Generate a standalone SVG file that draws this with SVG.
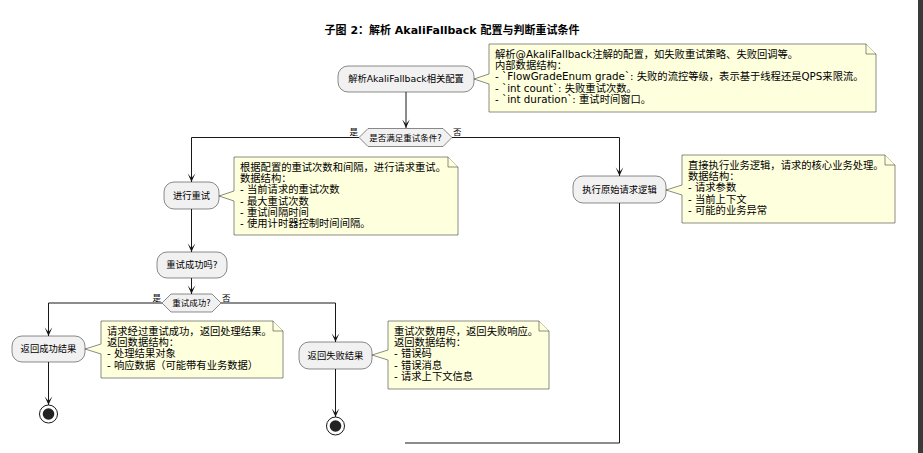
<svg xmlns="http://www.w3.org/2000/svg" width="923" height="453" viewBox="0 0 923 453">
<defs>
<style>
text{font-family:"DejaVu Sans","Noto Sans CJK SC",sans-serif;fill:#000}
.title{font-size:11px;font-weight:bold}
.box{fill:#F1F1F1;stroke:#181818;stroke-width:0.5}
.bt{font-size:9.3px;text-anchor:middle}
.dt{font-size:8.5px;text-anchor:middle}
.lbl{font-size:8.5px}
.note{fill:#FEFFDD;stroke:#181818;stroke-width:0.5}
.nt{font-size:10.3px}
.ln{fill:none;stroke:#181818;stroke-width:1}
.endo{fill:#fff;stroke:#181818;stroke-width:1}
.endi{fill:#222}
</style>
<marker id="arr" markerUnits="userSpaceOnUse" markerWidth="12" markerHeight="12" viewBox="-10 -6 12 12" refX="0" refY="0" orient="auto">
<path d="M0,0 L-8.5,-3.8 L-4,0 L-8.5,3.8 Z" fill="#181818"/>
</marker>
</defs>
<rect x="0" y="0" width="923" height="453" fill="#fff"/>
<rect x="918" y="0" width="5" height="453" fill="#3a3a3a"/>
<text class="title" x="452" y="34" text-anchor="middle">子图 2：解析 AkaliFallback 配置与判断重试条件</text>

<g id="connectors">
<path class="ln" d="M406,92 L406,128" marker-end="url(#arr)"/>
<path class="ln" d="M359,137.5 L191.5,137.5 L191.5,182" marker-end="url(#arr)"/>
<path class="ln" d="M452,137.5 L619.5,137.5 L619.5,176" marker-end="url(#arr)"/>
<path class="ln" d="M191.5,209 L191.5,252" marker-end="url(#arr)"/>
<path class="ln" d="M191.5,278 L191.5,294" marker-end="url(#arr)"/>
<path class="ln" d="M162,303 L48.5,303 L48.5,336" marker-end="url(#arr)"/>
<path class="ln" d="M221,303 L335.5,303 L335.5,342" marker-end="url(#arr)"/>
<path class="ln" d="M48.5,362 L48.5,405" marker-end="url(#arr)"/>
<path class="ln" d="M335.5,369 L335.5,417" marker-end="url(#arr)"/>
<path class="ln" d="M619.5,203 L619.5,443 L405,443"/>
<text class="lbl" x="358" y="135" text-anchor="end">是</text>
<text class="lbl" x="453" y="135">否</text>
<text class="lbl" x="161" y="301" text-anchor="end">是</text>
<text class="lbl" x="222" y="301">否</text>
</g>

<g id="n_parse">
<rect class="box" x="338" y="66" width="136" height="26" rx="10"/>
<text class="bt" x="406" y="82.3">解析AkaliFallback相关配置</text>
</g>
<g id="note_parse">
<path class="note" d="M489,44 L866,44 L876,54 L876,112 L489,112 L489,84 L474,79 L489,74 Z"/>
<path class="note" d="M866,44 L866,54 L876,54"/>
<text class="nt" x="495" y="58">解析@AkaliFallback注解的配置，如失败重试策略、失败回调等。<tspan x="495" dy="11.2">内部数据结构：</tspan><tspan x="495" dy="11.2">- `FlowGradeEnum grade`: 失败的流控等级，表示基于线程还是QPS来限流。</tspan><tspan x="495" dy="11.2">- `int count`: 失败重试次数。</tspan><tspan x="495" dy="11.2">- `int duration`: 重试时间窗口。</tspan></text>
</g>

<g id="d_cond">
<polygon class="box" points="359,137.5 368,128.5 443,128.5 452,137.5 443,146.5 368,146.5"/>
<text class="dt" x="405.5" y="140.5">是否满足重试条件?</text>
</g>

<g id="n_retry">
<rect class="box" x="164" y="182" width="55" height="27" rx="10"/>
<text class="bt" x="191.5" y="198.8">进行重试</text>
</g>
<g id="note_retry">
<path class="note" d="M234,157 L448,157 L458,167 L458,235 L234,235 L234,201 L219,196 L234,191 Z"/>
<path class="note" d="M448,157 L448,167 L458,167"/>
<text class="nt" x="240" y="171">根据配置的重试次数和间隔，进行请求重试。<tspan x="240" dy="11.2">数据结构：</tspan><tspan x="240" dy="11.2">- 当前请求的重试次数</tspan><tspan x="240" dy="11.2">- 最大重试次数</tspan><tspan x="240" dy="11.2">- 重试间隔时间</tspan><tspan x="240" dy="11.2">- 使用计时器控制时间间隔。</tspan></text>
</g>

<g id="n_check">
<rect class="box" x="157" y="252" width="70" height="26" rx="10"/>
<text class="bt" x="192" y="268.3">重试成功吗?</text>
</g>

<g id="d_ok">
<polygon class="box" points="162,303 171,294 212,294 221,303 212,312 171,312"/>
<text class="dt" x="191.5" y="306">重试成功?</text>
</g>

<g id="n_success">
<rect class="box" x="12" y="336" width="73" height="26" rx="10"/>
<text class="bt" x="48.5" y="352.3">返回成功结果</text>
</g>
<g id="note_success">
<path class="note" d="M101,321 L273,321 L283,331 L283,378 L101,378 L101,354 L85,349 L101,344 Z"/>
<path class="note" d="M273,321 L273,331 L283,331"/>
<text class="nt" x="107" y="335">请求经过重试成功，返回处理结果。<tspan x="107" dy="11.2">返回数据结构：</tspan><tspan x="107" dy="11.2">- 处理结果对象</tspan><tspan x="107" dy="11.2">- 响应数据（可能带有业务数据）</tspan></text>
</g>
<g id="end_success">
<circle class="endo" cx="48.5" cy="414" r="9"/>
<circle class="endi" cx="48.5" cy="414" r="5.8"/>
</g>

<g id="n_fail">
<rect class="box" x="299" y="342" width="73" height="27" rx="10"/>
<text class="bt" x="335.5" y="358.8">返回失败结果</text>
</g>
<g id="note_fail">
<path class="note" d="M388,321 L539,321 L549,331 L549,389 L388,389 L388,360 L372,355 L388,350 Z"/>
<path class="note" d="M539,321 L539,331 L549,331"/>
<text class="nt" x="394" y="335">重试次数用尽，返回失败响应。<tspan x="394" dy="11.2">返回数据结构：</tspan><tspan x="394" dy="11.2">- 错误码</tspan><tspan x="394" dy="11.2">- 错误消息</tspan><tspan x="394" dy="11.2">- 请求上下文信息</tspan></text>
</g>
<g id="end_fail">
<circle class="endo" cx="335.5" cy="426" r="9"/>
<circle class="endi" cx="335.5" cy="426" r="5.8"/>
</g>

<g id="n_exec">
<rect class="box" x="573" y="176" width="93" height="27" rx="10"/>
<text class="bt" x="619.5" y="192.8">执行原始请求逻辑</text>
</g>
<g id="note_exec">
<path class="note" d="M682,155 L885,155 L895,165 L895,223 L682,223 L682,195 L666,190 L682,185 Z"/>
<path class="note" d="M885,155 L885,165 L895,165"/>
<text class="nt" x="688" y="169">直接执行业务逻辑，请求的核心业务处理。<tspan x="688" dy="11.2">数据结构：</tspan><tspan x="688" dy="11.2">- 请求参数</tspan><tspan x="688" dy="11.2">- 当前上下文</tspan><tspan x="688" dy="11.2">- 可能的业务异常</tspan></text>
</g>
</svg>
